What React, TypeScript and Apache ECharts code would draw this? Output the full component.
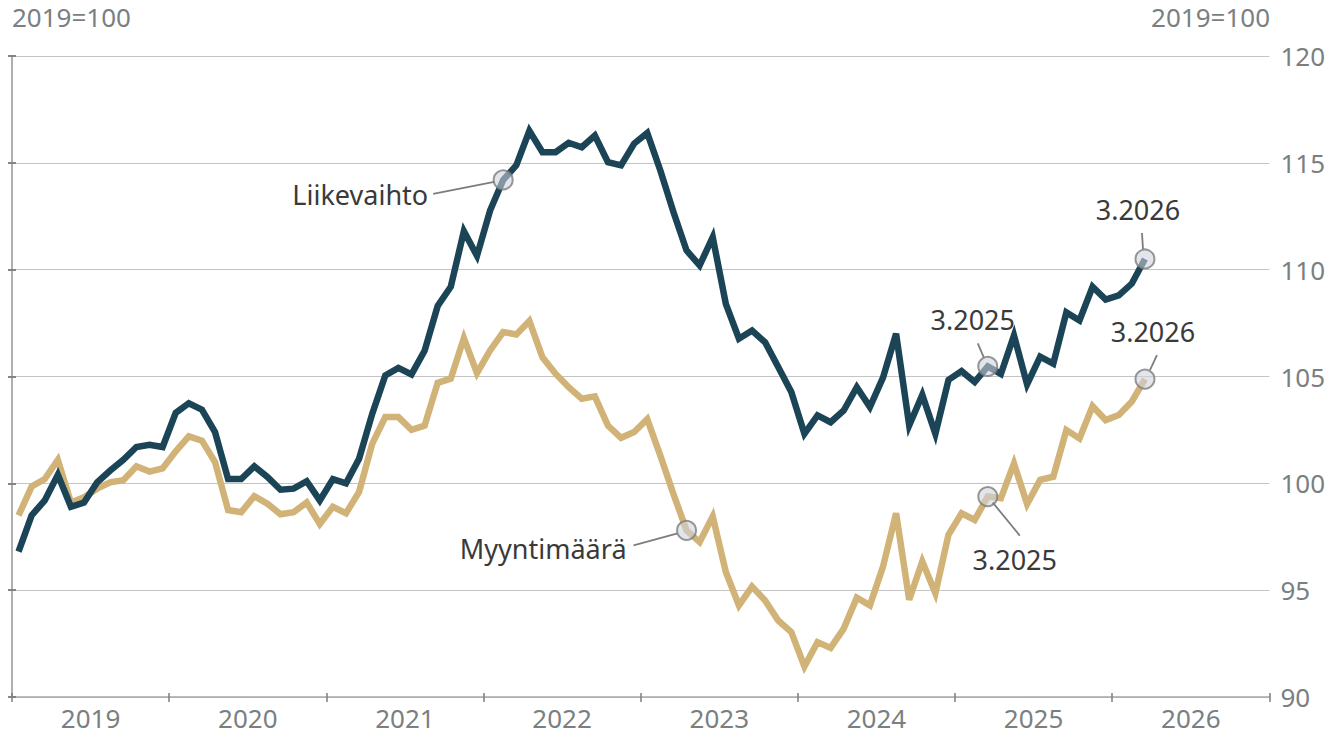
import React, { useEffect, useRef } from 'react';
import * as echarts from 'echarts';

// ---- Data (monthly index values, 2019=100), Jan 2019 … Mar 2026 ----
const YEARS = ['2019', '2020', '2021', '2022', '2023', '2024', '2025', '2026'];
const UNIT_LABEL = '2019=100';
const Y_TICKS = [90, 95, 100, 105, 110, 115, 120];

const LIIKEVAIHTO = [
  96.8, 98.5, 99.2, 100.4, 98.9, 99.1, 100.05, 100.6, 101.1, 101.7, 101.8, 101.7,
  103.3, 103.75, 103.45, 102.4, 100.2, 100.2, 100.8, 100.3, 99.7, 99.75, 100.1, 99.2,
  100.2, 100.0, 101.15, 103.25, 105.05, 105.4, 105.1, 106.2, 108.3, 109.2, 111.8, 110.65,
  112.77, 114.2, 114.88, 116.5, 115.5, 115.5, 115.94, 115.73, 116.28, 115.03, 114.88, 115.9,
  116.4, 114.64, 112.7, 110.9, 110.2, 111.52, 108.4, 106.77, 107.15, 106.6, 105.44, 104.27,
  102.32, 103.18, 102.86, 103.41, 104.5, 103.57, 104.95, 107.0, 102.71, 104.14, 102.32, 104.84,
  105.25, 104.74, 105.47, 105.12, 106.92, 104.63, 105.93, 105.6, 108.0, 107.62, 109.2, 108.6,
  108.8, 109.35, 110.5,
];

const MYYNTIMAARA = [
  98.5, 99.85, 100.2, 101.1, 99.1, 99.35, 99.75, 100.05, 100.15, 100.8, 100.55, 100.7,
  101.5, 102.2, 102.0, 101.0, 98.75, 98.65, 99.4, 99.05, 98.55, 98.65, 99.1, 98.1,
  98.9, 98.6, 99.6, 101.85, 103.1, 103.1, 102.5, 102.7, 104.7, 104.9, 106.8, 105.16,
  106.22, 107.08, 106.97, 107.6, 105.9, 105.13, 104.5, 103.96, 104.07, 102.7, 102.13, 102.4,
  103.0, 101.3, 99.5, 97.8, 97.25, 98.45, 95.85, 94.29, 95.17, 94.52, 93.58, 93.04,
  91.43, 92.57, 92.3, 93.2, 94.65, 94.29, 96.1, 98.6, 94.55, 96.34, 94.86, 97.59,
  98.6, 98.29, 99.38, 99.3, 100.93, 99.03, 100.16, 100.31, 102.49, 102.1, 103.61, 102.96,
  103.2, 103.83, 104.88,
];

// Annotated points: series key, month index, label
const ANNOTATION_POINTS = [
  { key: 'L', index: 37, text: 'Liikevaihto' },
  { key: 'M', index: 51, text: 'Myyntimäärä' },
  { key: 'L', index: 74, text: '3.2025' },
  { key: 'M', index: 74, text: '3.2025' },
  { key: 'L', index: 86, text: '3.2026' },
  { key: 'M', index: 86, text: '3.2026' },
];

// ---- Layout / style (separate from data) ----
const ANNOTATION_LAYOUT = [
  { dx: -75, dy: 15, align: 'right', line: [-70, 14, -9, 2] },
  { dx: -60, dy: 18, align: 'right', line: [-53, 15, -9, 3] },
  { dx: -15, dy: -47, align: 'center', line: [-10, -23, -4, -9] },
  { dx: 27, dy: 63, align: 'center', line: [5, 6, 32, 39] },
  { dx: -7, dy: -49, align: 'center', line: [-3, -26, -2, -10] },
  { dx: 8, dy: -48, align: 'center', line: [12, -24, 5, -9] },
];

const DARK = '#1b4456';
const TAN = '#d1b378';
const GREY = '#7a7f82';
const AXIS_GREY = '#a8a8a8';
const GRID_GREY = '#c4c4c4';
const TEXT_DARK = '#3a3a3a';
const FONT = '"Noto Sans", sans-serif';

export default function App() {
  const ref = useRef<HTMLDivElement>(null);

  useEffect(() => {
    document.body.style.margin = '0';
    const chart = echarts.init(ref.current!, null, { renderer: 'svg' });
    const nMonths = YEARS.length * 12;
    const toXY = (arr: number[]) => arr.map((v, i) => [i + 0.5, v]);
    const tickVals = YEARS.map((_, i) => i * 12).concat([nMonths]);
    const labelVals = YEARS.map((_, i) => i * 12 + 6);

    const series: Record<string, number[]> = { L: LIIKEVAIHTO, M: MYYNTIMAARA };

    const yBase = {
      type: 'value',
      min: Y_TICKS[0],
      max: Y_TICKS[Y_TICKS.length - 1],
      interval: 5,
      axisLabel: { show: false },
      splitLine: { show: false },
      axisLine: { show: false },
    };

    chart.setOption({
      animation: false,
      grid: { left: 12, right: 58, top: 56, bottom: 39 },
      xAxis: [
        {
          type: 'value',
          position: 'bottom',
          min: 0,
          max: nMonths,
          axisLine: { show: true, lineStyle: { color: AXIS_GREY, width: 1.5 } },
          axisTick: { show: true, customValues: tickVals, length: 5, lineStyle: { color: GREY, width: 1.5 } },
          axisLabel: {
            customValues: labelVals,
            formatter: (v: number) => YEARS[Math.round((v - 6) / 12)] ?? '',
            color: GREY,
            fontSize: 26,
            fontFamily: FONT,
            margin: 8,
          },
          splitLine: { show: false },
        },
        {
          type: 'value',
          position: 'bottom',
          min: 0,
          max: nMonths,
          axisLine: { show: false },
          axisTick: { show: true, inside: true, customValues: tickVals, length: 4, lineStyle: { color: GREY, width: 1.5 } },
          axisLabel: { show: false },
          splitLine: { show: false },
        },
      ],
      yAxis: [
        {
          ...yBase,
          position: 'right',
          axisLine: { show: true, lineStyle: { color: AXIS_GREY, width: 1.5 } },
          axisTick: { show: true, length: 4, lineStyle: { color: GREY, width: 1.5 } },
          axisLabel: { show: true, color: GREY, fontSize: 26, fontFamily: FONT, margin: 11 },
          splitLine: { show: true, lineStyle: { color: GRID_GREY, width: 1.2 } },
        },
        {
          ...yBase,
          position: 'right',
          axisTick: { show: true, inside: true, length: 4, lineStyle: { color: GREY, width: 1.5 } },
        },
        {
          ...yBase,
          position: 'left',
          axisLine: { show: true, lineStyle: { color: AXIS_GREY, width: 1.5 } },
          axisTick: { show: true, length: 4, lineStyle: { color: GREY, width: 1.5 } },
        },
        {
          ...yBase,
          position: 'left',
          axisTick: { show: true, inside: true, length: 4, lineStyle: { color: GREY, width: 1.5 } },
        },
      ],
      series: [
        {
          name: 'Liikevaihto',
          type: 'line',
          data: toXY(LIIKEVAIHTO),
          symbol: 'none',
          lineStyle: { color: DARK, width: 6.5, join: 'miter' },
          z: 3,
        },
        {
          name: 'Myyntimäärä',
          type: 'line',
          data: toXY(MYYNTIMAARA),
          symbol: 'none',
          lineStyle: { color: TAN, width: 6.5, join: 'miter' },
          z: 2,
        },
        {
          name: 'markers',
          type: 'scatter',
          data: ANNOTATION_POINTS.map((p) => [p.index + 0.5, series[p.key][p.index]]),
          symbol: 'circle',
          symbolSize: 19,
          itemStyle: { color: 'rgba(205,210,220,0.72)', borderColor: '#7d7d7d', borderWidth: 2 },
          z: 5,
          silent: true,
        },
      ],
    });

    const graphics: any[] = [
      {
        type: 'text',
        left: 12,
        top: 4,
        style: { text: UNIT_LABEL, fill: GREY, fontSize: 26, fontFamily: FONT },
      },
      {
        type: 'text',
        right: 58,
        top: 4,
        style: { text: UNIT_LABEL, fill: GREY, fontSize: 26, fontFamily: FONT },
      },
    ];

    ANNOTATION_POINTS.forEach((p, k) => {
      const lay = ANNOTATION_LAYOUT[k];
      const [px, py] = chart.convertToPixel({ xAxisIndex: 0, yAxisIndex: 0 }, [p.index + 0.5, series[p.key][p.index]]) as number[];
      graphics.push({
        type: 'line',
        shape: { x1: px + lay.line[0], y1: py + lay.line[1], x2: px + lay.line[2], y2: py + lay.line[3] },
        style: { stroke: '#7d7d7d', lineWidth: 1.8 },
        z: 10,
      });
      graphics.push({
        type: 'text',
        x: px + lay.dx,
        y: py + lay.dy,
        style: {
          text: p.text,
          fill: TEXT_DARK,
          fontSize: 27,
          fontFamily: FONT,
          textAlign: lay.align,
          textVerticalAlign: 'middle',
        },
        z: 10,
      });
    });

    chart.setOption({ graphic: graphics });

    return () => chart.dispose();
  }, []);

  return <div ref={ref} style={{ width: 1328, height: 736 }} />;
}
